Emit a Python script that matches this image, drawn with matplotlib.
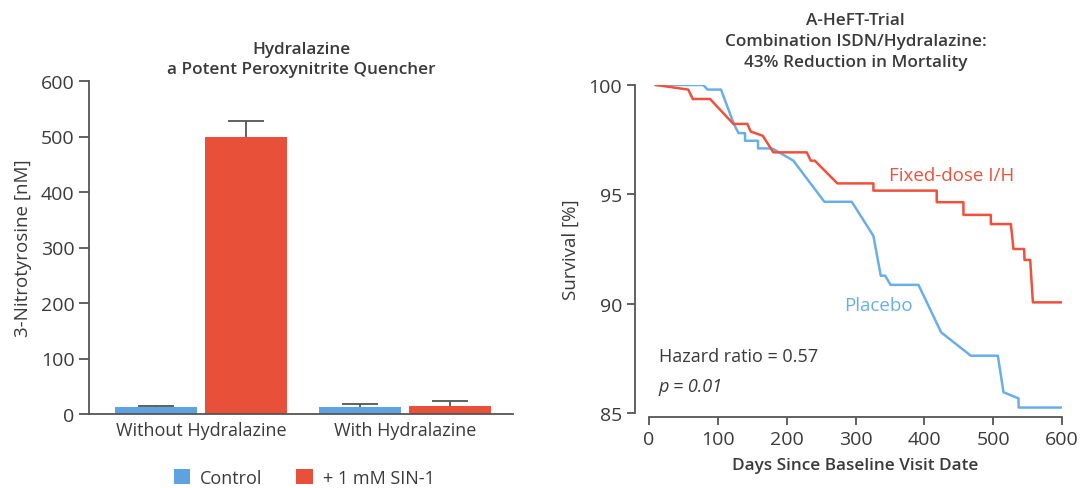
import matplotlib.pyplot as plt

plt.rcParams['font.family'] = ['Open Sans', 'DejaVu Sans']

# left panel data
groups = ['Without Hydralazine', 'With Hydralazine']
control_vals = [12, 12]
control_err = [2, 6]
sin1_vals = [500, 15]
sin1_err = [28, 8]

# right panel data (Kaplan-Meier vertices)
placebo_days = [10, 79, 85, 104.6, 123.5, 130, 139.5, 139.5, 158.4, 158.4, 177, 180.7,
                209.7, 254.8, 294.6, 326, 336.7, 343, 351, 391.5, 424.4, 467.5, 506.8,
                515, 536.8, 537, 600]
placebo_surv = [100, 100, 99.79, 99.79, 98.2, 97.8, 97.8, 97.45, 97.45, 97.1, 97.1, 97.07,
                96.54, 94.66, 94.66, 93.1, 91.28, 91.28, 90.86, 90.86, 88.69, 87.62, 87.62,
                85.95, 85.67, 85.25, 85.25]
fixed_days = [10, 57, 63.5, 88.7, 122.6, 142.9, 147.8, 165.2, 180.7, 229.2, 235, 240.8,
              273.7, 326, 326, 418, 418, 456.8, 456.8, 496.6, 496.6, 525.7, 529.5, 545,
              545.5, 553.8, 557.7, 600]
fixed_surv = [100, 99.79, 99.36, 99.36, 98.22, 98.22, 97.87, 97.68, 96.92, 96.92, 96.54,
              96.54, 95.5, 95.5, 95.17, 95.17, 94.64, 94.64, 94.06, 94.06, 93.64, 93.64,
              92.5, 92.5, 92.0, 92.0, 90.06, 90.06]

blue = '#5ea3df'
red = '#e8503a'
line_blue = '#6aaee8'
line_red = '#f0503c'
txt = '#3a3a3a'
axc = '#555555'

fig = plt.figure(figsize=(10.88, 4.89), dpi=100)

# ---------- left: bar chart ----------
ax1 = fig.add_axes([89 / 1088, 1 - 415 / 489, (513 - 89) / 1088, (415 - 82) / 489])
x = [0, 1]
w = 0.40
off = 0.22
ax1.bar([i - off for i in x], control_vals, w, color=blue, label='Control', zorder=2)
ax1.bar([i + off for i in x], sin1_vals, w, color=red, label='+ 1 mM SIN-1', zorder=2)
for xs, vals, errs in [([i - off for i in x], control_vals, control_err),
                       ([i + off for i in x], sin1_vals, sin1_err)]:
    eb = ax1.errorbar(xs, vals, yerr=[[0, 0], errs], fmt='none', ecolor=axc,
                      elinewidth=1.3, capsize=13, capthick=1.3, zorder=1)
    eb[1][0].set_visible(False)  # only the upper cap
ax1.set_xlim(-0.548, 1.53)
ax1.set_ylim(0, 600)
ax1.set_yticks(range(0, 601, 100))
ax1.set_xticks(x)
ax1.set_xticklabels(groups)
ax1.tick_params(axis='x', length=0, pad=5, labelsize=13, labelcolor=txt)
ax1.tick_params(axis='y', length=7, width=1.3, color=axc, labelsize=14, labelcolor=txt)
for s in ['top', 'right']:
    ax1.spines[s].set_visible(False)
for s in ['left', 'bottom']:
    ax1.spines[s].set_color(axc)
    ax1.spines[s].set_linewidth(1.3)
ax1.set_ylabel('3-Nitrotyrosine [nM]', fontsize=13.5, color=txt, labelpad=6)
ax1.set_title('Hydralazine\na Potent Peroxynitrite Quencher', fontsize=12.3,
              fontweight='semibold', color=txt, pad=6, linespacing=1.3)
ax1.legend(loc='upper center', bbox_to_anchor=(0.507, -0.115), ncol=2, frameon=False,
           fontsize=13, handlelength=0.9, handleheight=0.9, handletextpad=0.55,
           columnspacing=1.9, labelcolor=txt)

# ---------- right: survival curves ----------
ax2 = fig.add_axes([649 / 1088, 1 - 414 / 489, (1062 - 649) / 1088, (414 - 86) / 489])
ax2.plot(placebo_days, placebo_surv, color=line_blue, lw=1.8)
ax2.plot(fixed_days, fixed_surv, color=line_red, lw=1.8)
ax2.set_xlim(0, 600)
ax2.set_ylim(85, 100)
ax2.set_xticks(range(0, 601, 100))
ax2.set_yticks([85, 90, 95, 100])
ax2.spines['left'].set_position(('outward', 10))
ax2.spines['bottom'].set_position(('outward', 3))
for s in ['top', 'right']:
    ax2.spines[s].set_visible(False)
for s in ['left', 'bottom']:
    ax2.spines[s].set_color(axc)
    ax2.spines[s].set_linewidth(1.3)
ax2.tick_params(length=6, width=1.3, color=axc, labelsize=14, labelcolor=txt)
ax2.set_ylabel('Survival [%]', fontsize=13.5, color=txt, labelpad=6)
ax2.set_xlabel('Days Since Baseline Visit Date', fontsize=12.3, fontweight='semibold',
               color=txt, labelpad=6)
ax2.set_title('A-HeFT-Trial\nCombination ISDN/Hydralazine:\n43% Reduction in Mortality',
              fontsize=12.3, fontweight='semibold', color=txt, pad=14, linespacing=1.4)
ax2.text(440, 95.9, 'Fixed-dose I/H', color=line_red, fontsize=13.5, ha='center', va='center')
ax2.text(333, 89.95, 'Placebo', color=line_blue, fontsize=13.5, ha='center', va='center')
ax2.text(14, 87.6, 'Hazard ratio = 0.57', color=txt, fontsize=13, ha='left', va='center')
ax2.text(14, 86.24, 'p = 0.01', color=txt, fontsize=13, ha='left', va='center',
         style='italic')

fig.savefig('out.png', dpi=100)
